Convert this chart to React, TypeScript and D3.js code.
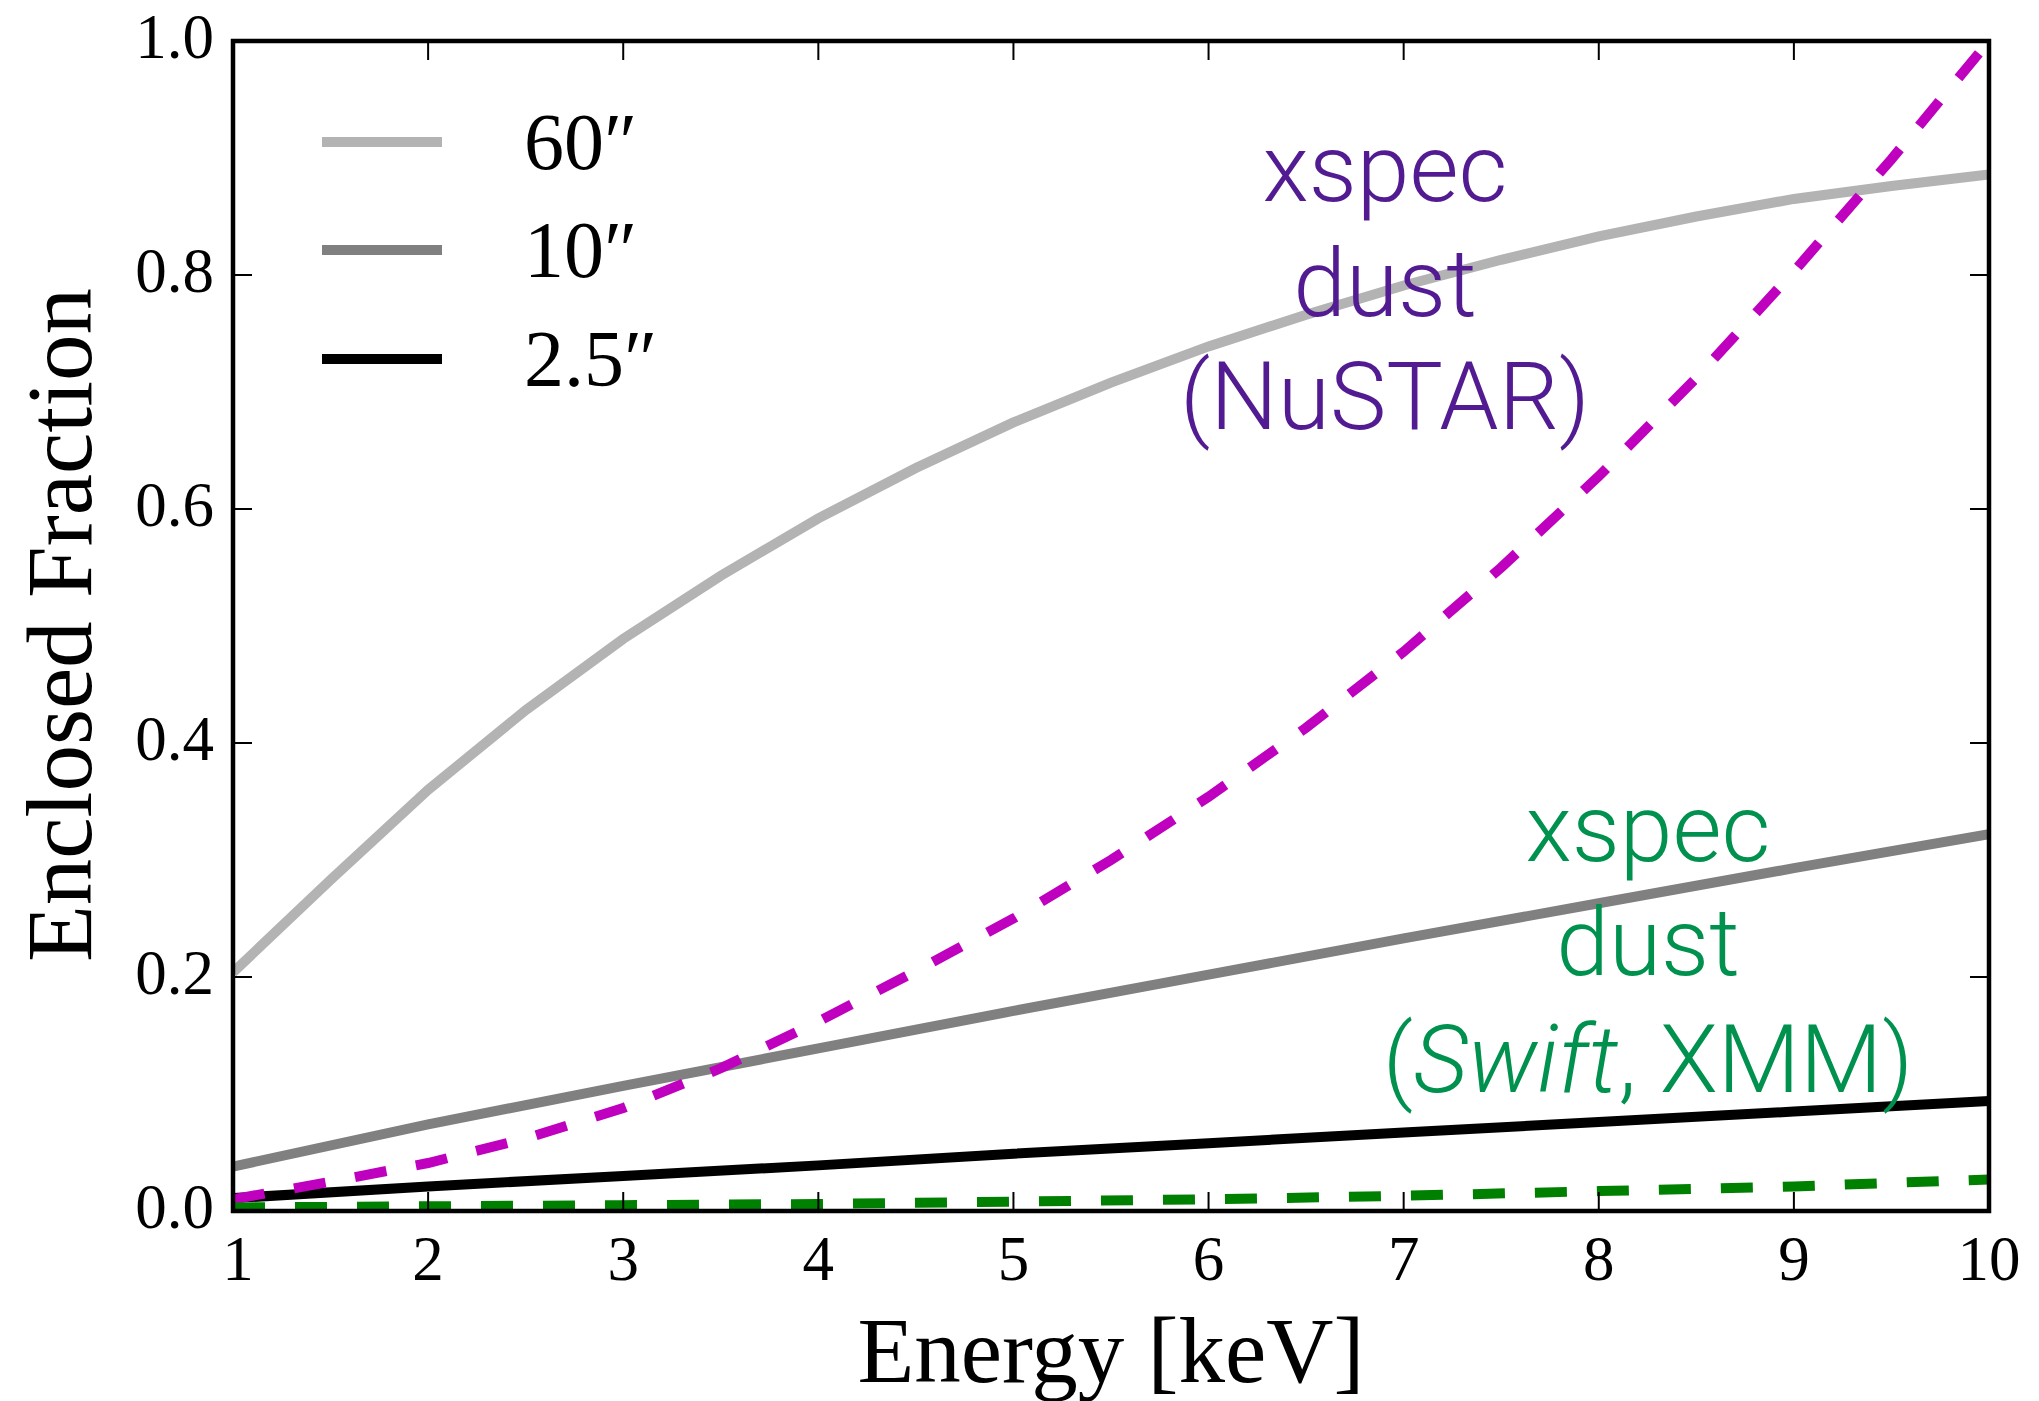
import React from "react";
import * as d3 from "d3";

// ---- data ----
const energyFine = [1, 1.5, 2, 2.5, 3, 3.5, 4, 4.5, 5, 5.5, 6, 6.5, 7, 7.5, 8, 8.5, 9, 9.5, 10];
const enclosed60 = [0.204, 0.283, 0.36, 0.428, 0.489, 0.543, 0.592, 0.635, 0.674, 0.708, 0.739, 0.766, 0.791, 0.813, 0.833, 0.85, 0.865, 0.876, 0.886];
const energyCoarse = [1, 2, 3, 4, 5, 6, 7, 8, 9, 10];
const enclosed10 = [0.038, 0.074, 0.107, 0.139, 0.171, 0.202, 0.233, 0.263, 0.293, 0.322];
const enclosed25 = [0.011, 0.021, 0.03, 0.039, 0.049, 0.058, 0.067, 0.076, 0.085, 0.094];
const dustNuSTAR = [0.01, 0.025, 0.041, 0.062, 0.088, 0.122, 0.162, 0.205, 0.25, 0.3, 0.354, 0.413, 0.478, 0.55, 0.628, 0.712, 0.803, 0.899, 1.0];
const dustSwiftXMM = [0.003, 0.004, 0.005, 0.006, 0.008, 0.01, 0.013, 0.017, 0.021, 0.027];
const xTicks = [1, 2, 3, 4, 5, 6, 7, 8, 9, 10];
const yTicks = [0, 0.2, 0.4, 0.6, 0.8, 1.0];
const legendLabels = ["60\u2033", "10\u2033", "2.5\u2033"];

export default function App() {
  const W = 2039, H = 1401;
  const L = 233, R = 1989, T = 41, B = 1211;
  const x = d3.scaleLinear().domain([1, 10]).range([L, R]);
  const y = d3.scaleLinear().domain([0, 1]).range([B, T]);
  const line = d3.line<[number, number]>().x(d => x(d[0])).y(d => y(d[1]));
  const zip = (a: number[], b: number[]) => a.map((v, i) => [v, b[i]] as [number, number]);

  const serif = "'Liberation Serif', 'Times New Roman', serif";
  const sans = "Roboto, 'Helvetica Neue', sans-serif";
  const tickLen = 19;
  const legendColors = ["#b3b3b3", "#808080", "#000000"];
  const legendY = [142, 250, 359];

  return (
    <svg width={W} height={H} style={{ position: "absolute", left: 0, top: 0, background: "#fff" }}>
      <defs>
        <clipPath id="plotclip">
          <rect x={L} y={T} width={R - L} height={B - T} />
        </clipPath>
      </defs>
      <g clipPath="url(#plotclip)" fill="none" strokeWidth={10}>
        <path d={line(zip(energyFine, enclosed60))!} stroke="#b3b3b3" />
        <path d={line(zip(energyCoarse, enclosed10))!} stroke="#808080" />
        <path d={line(zip(energyCoarse, enclosed25))!} stroke="#000000" />
        <path d={line(zip(energyFine, dustNuSTAR))!} stroke="#bf00bf" strokeDasharray="32 30" strokeLinecap="butt" />
        <path d={line(zip(energyCoarse, dustSwiftXMM))!} stroke="#008000" strokeDasharray="32 30" strokeLinecap="butt" />
      </g>
      {/* ticks */}
      <g stroke="#000" strokeWidth={2}>
        {xTicks.map(t => (
          <g key={"xt" + t}>
            <line x1={x(t)} x2={x(t)} y1={B} y2={B - tickLen} />
            <line x1={x(t)} x2={x(t)} y1={T} y2={T + tickLen} />
          </g>
        ))}
        {yTicks.map(t => (
          <g key={"yt" + t}>
            <line x1={L} x2={L + tickLen} y1={y(t)} y2={y(t)} />
            <line x1={R} x2={R - tickLen} y1={y(t)} y2={y(t)} />
          </g>
        ))}
      </g>
      {/* frame */}
      <rect x={L} y={T} width={R - L} height={B - T} fill="none" stroke="#000" strokeWidth={4.5} />
      {/* tick labels */}
      <g fontFamily={serif} fontSize={63} fill="#000">
        {xTicks.map(t => (
          <text key={"xl" + t} x={x(t) + (t === 1 ? 5 : 0)} y={B + 69} textAnchor="middle">{t}</text>
        ))}
        {yTicks.map(t => (
          <text key={"yl" + t} x={L - 19} y={y(t) + 17} textAnchor="end">{t.toFixed(1)}</text>
        ))}
      </g>
      {/* axis labels */}
      <text x={(L + R) / 2} y={1382} textAnchor="middle" fontFamily={serif} fontSize={93}>Energy [keV]</text>
      <text transform={`translate(91, ${(T + B) / 2 - 1}) rotate(-90)`} textAnchor="middle" fontFamily={serif} fontSize={93}>Enclosed Fraction</text>
      {/* legend */}
      {legendLabels.map((lab, i) => (
        <g key={lab}>
          <line x1={322} x2={442} y1={legendY[i]} y2={legendY[i]} stroke={legendColors[i]} strokeWidth={10} />
          <text x={524} y={legendY[i] + 27} fontFamily={serif} fontSize={80}>{lab}</text>
        </g>
      ))}
      {/* annotations */}
      <g fontFamily={sans} fontWeight={300} fontSize={95} fill="#521b92" textAnchor="middle">
        <text x={1385} y={201}>xspec</text>
        <text x={1385} y={316}>dust</text>
        <text x={1385} y={429}>(NuSTAR)</text>
      </g>
      <g fontFamily={sans} fontWeight={300} fontSize={95} fill="#00914f" textAnchor="middle">
        <text x={1648} y={861}>xspec</text>
        <text x={1648} y={975}>dust</text>
        <text x={1648} y={1092}>(<tspan fontStyle="italic">Swift</tspan>, XMM)</text>
      </g>
    </svg>
  );
}
